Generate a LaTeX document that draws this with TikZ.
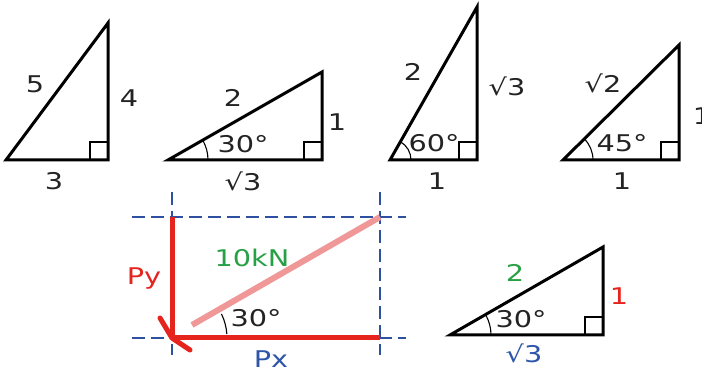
\documentclass[tikz,border=0pt]{standalone}
\usepackage{fontspec}
\setmainfont{DejaVu Sans}[FakeStretch=1.25]
\usetikzlibrary{calc}
\definecolor{fred}{RGB}{230,36,30}
\definecolor{fpink}{RGB}{240,152,152}
\definecolor{fblue}{RGB}{45,80,160}
\definecolor{tblue}{RGB}{45,85,170}
\definecolor{fgreen}{RGB}{40,160,70}
\definecolor{txt}{RGB}{35,35,35}
\begin{document}
\begin{tikzpicture}[x=1pt,y=1pt,
  tri/.style={line width=3pt, line join=miter},
  rsq/.style={line width=1.3pt},
  ang/.style={line width=1.1pt},
  lbl/.style={anchor=base, inner sep=0pt, text=txt, font=\fontsize{23}{27}\selectfont},
  guide/.style={draw=fblue, line width=2.8pt, dash pattern=on 13pt off 6pt},
  force/.style={draw=fred, line width=5pt},
]
\useasboundingbox[fill=white] (0,0) rectangle (702,372);

% ---------- triangle 3-4-5
\coordinate (A1) at (6,212); \coordinate (B1) at (108,212); \coordinate (C1) at (108,349);
\draw[tri] (A1) -- (B1) -- (C1) -- cycle;
\draw[rsq] ($(B1)+(-18,0)$) -- ++(0,18) -- ++(18,0);
\node[lbl] (t1a) at (35,279) {5};
\node[lbl] (t1b) at (129,265) {4};
\node[lbl] (t1c) at (54,182) {3};

% ---------- triangle 30
\coordinate (A2) at (168,212); \coordinate (B2) at (322,212); \coordinate (C2) at (322,300);
\draw[tri] (A2) -- (B2) -- (C2) -- cycle;
\draw[rsq] ($(B2)+(-18,0)$) -- ++(0,18) -- ++(18,0);
\draw[ang] ([shift={(0:40pt)}]A2) arc[start angle=0, end angle=29.7, radius=40pt];
\node[lbl] (t2a) at (233,265) {2};
\node[lbl] (t2b) at (337,241) {1};
\node[lbl] (t2c) at (243,219) {30°};
\node[lbl] (t2d) at (243,181) {√3};

% ---------- triangle 60
\coordinate (A3) at (390,212); \coordinate (B3) at (477,212); \coordinate (C3) at (477,365);
\draw[tri] (A3) -- (B3) -- (C3) -- cycle;
\draw[rsq] ($(B3)+(-18,0)$) -- ++(0,18) -- ++(18,0);
\draw[ang] ([shift={(0:21pt)}]A3) arc[start angle=0, end angle=60.4, radius=21pt];
\node[lbl] (t3a) at (413,291) {2};
\node[lbl] (t3b) at (507,276) {√3};
\node[lbl] (t3c) at (434,220) {60°};
\node[lbl] (t3d) at (437,182) {1};

% ---------- triangle 45
\coordinate (A4) at (563,212); \coordinate (B4) at (679,212); \coordinate (C4) at (679,327);
\draw[tri] (A4) -- (B4) -- (C4) -- cycle;
\draw[rsq] ($(B4)+(-18,0)$) -- ++(0,18) -- ++(18,0);
\draw[ang] ([shift={(0:30pt)}]A4) arc[start angle=0, end angle=44.8, radius=30pt];
\node[lbl] (t4a) at (603,279) {√2};
\node[lbl] (t4b) at (622,220) {45°};
\node[lbl] (t4c) at (622,182) {1};
\node[lbl] (t4d) at (702,247) {1};

% ---------- force decomposition
\coordinate (P) at (172,155); \coordinate (O) at (172,34);
\coordinate (Q) at (380,34);  \coordinate (R) at (380,155);
\coordinate (gl1) at (132,155); \coordinate (gr1) at (406,155);
\coordinate (gl2) at (132,34);  \coordinate (gr2) at (406,34);
\coordinate (gt1) at (172,180); \coordinate (gb1) at (172,17);
\coordinate (gt2) at (380,180); \coordinate (gb2) at (380,17);
\draw[guide] (gl1) -- (gr1);
\draw[guide] (gl2) -- (gr2);
\draw[guide] (gt1) -- (gb1);
\draw[guide] (gt2) -- (gb2);
\coordinate (pe) at (192,47);
\draw[draw=fpink, line width=6pt] (R) -- (pe);
\draw[force] (P) -- (O);
\draw[force] (Q) -- (O);
\coordinate (H1) at (160,54); \coordinate (H2) at (190,22);
\draw[force, line cap=round, line join=round] (H1) -- (O) -- (H2);
\draw[ang] ([shift={(4:55pt)}]O) arc[start angle=4, end angle=26, radius=55pt];
\node[lbl, text=fred] (py) at (144,87) {Py};
\node[lbl, text=fgreen] (kn) at (252,105) {10kN};
\node[lbl] (a30) at (256,45) {30°};
\node[lbl, text=tblue] (px) at (271,4) {Px};

% ---------- small triangle
\coordinate (A5) at (450,37); \coordinate (B5) at (603,37); \coordinate (C5) at (603,125);
\draw[tri] (A5) -- (B5) -- (C5) -- cycle;
\draw[rsq] ($(B5)+(-18,0)$) -- ++(0,18) -- ++(18,0);
\draw[ang] ([shift={(0:41pt)}]A5) arc[start angle=0, end angle=29.9, radius=41pt];
\node[lbl, text=fgreen] (t5a) at (515,90) {2};
\node[lbl, text=fred] (t5b) at (619,67) {1};
\node[lbl] (t5c) at (521,44) {30°};
\node[lbl, text=tblue] (t5d) at (524,9) {√3};
\end{tikzpicture}
\end{document}
